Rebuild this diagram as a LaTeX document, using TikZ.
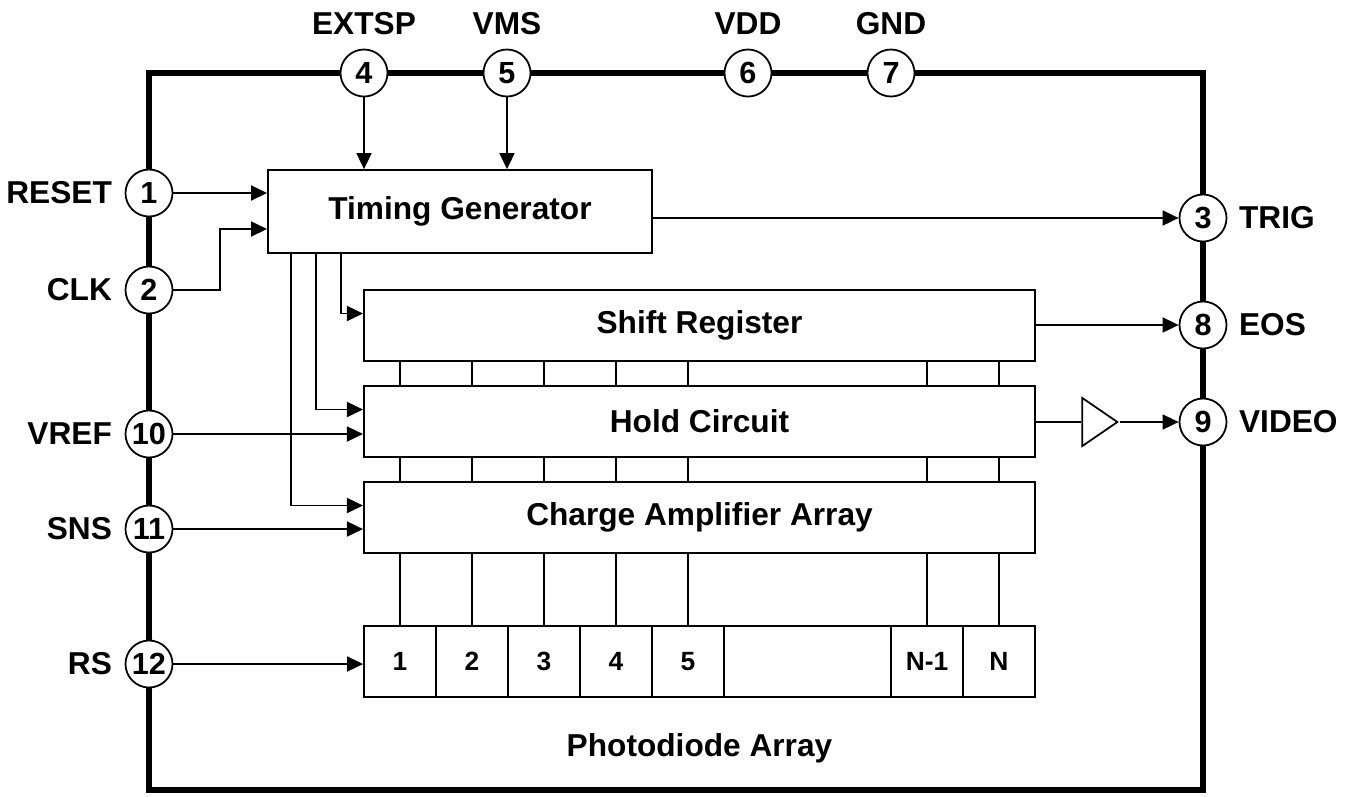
\documentclass[tikz,border=0pt]{standalone}
\usepackage{fontspec}
\setmainfont{Liberation Sans}
\usetikzlibrary{positioning,arrows.meta,shapes.geometric}

\begin{document}
\begin{tikzpicture}[x=0.01cm,y=-0.01cm,
  every node/.style={font=\fontsize{9}{11}\selectfont\bfseries},
  pin/.style={circle,draw,line width=0.5pt,fill=white,minimum size=0.47cm,inner sep=0pt,font=\fontsize{8.7}{10}\selectfont\bfseries},
  pinname/.style={inner sep=0pt},
  blk/.style={draw,line width=0.5pt,minimum width=6.71cm,minimum height=0.71cm},
  cell/.style={draw,line width=0.5pt,minimum width=0.72cm,minimum height=0.71cm,inner sep=0pt,font=\fontsize{7.5}{9}\selectfont\bfseries},
  wire/.style={line width=0.5pt},
  sig/.style={wire,-{Triangle[length=0.16cm,width=0.15cm]}}]
\useasboundingbox (0,0) rectangle (1351,796);
\draw[line width=1.8pt] (149,73) rectangle (1203,790);

\node[pin] (p4) at (364,73) {4};
\node[pin] (p5) at (507,73) {5};
\node[pin] (p6) at (748,73) {6};
\node[pin] (p7) at (891,73) {7};
\node[pin] (p1) at (149,193) {1};
\node[pin] (p2) at (149,290) {2};
\node[pin] (p10) at (149,434) {10};
\node[pin] (p11) at (149,529) {11};
\node[pin] (p12) at (149,664) {12};
\node[pin] (p3) at (1203,218) {3};
\node[pin] (p8) at (1203,325) {8};
\node[pin] (p9) at (1203,422) {9};

\node[pinname,above=0.13cm of p4] (l4) {EXTSP};
\node[pinname,above=0.13cm of p5] (l5) {VMS};
\node[pinname,above=0.13cm of p6] (l6) {VDD};
\node[pinname,above=0.13cm of p7] (l7) {GND};
\node[pinname,left=0.12cm of p1] (l1) {RESET};
\node[pinname,left=0.12cm of p2] (l2) {CLK};
\node[pinname,left=0.12cm of p10] (l10) {VREF};
\node[pinname,left=0.12cm of p11] (l11) {SNS};
\node[pinname,left=0.12cm of p12] (l12) {RS};
\node[pinname,right=0.11cm of p3] (l3) {TRIG};
\node[pinname,right=0.11cm of p8] (l8) {EOS};
\node[pinname,right=0.11cm of p9] (l9) {VIDEO};

\node[blk,minimum width=3.84cm,minimum height=0.83cm] (tg) at (460,211.5) {Timing Generator};
\node[blk] (sr) at (699.5,325.5) {Shift Register};
\node[blk] (hc) at (699.5,421.5) {Hold Circuit};
\node[blk] (ca) at (699.5,517.5) {Charge Amplifier Array};

\foreach \n/\t/\x in {c1/1/400,c2/2/472,c3/3/544,c4/4/616,c5/5/688,cm/N-1/927,cn/N/999}
  \node[cell] (\n) at (\x,661.5) {\t};
\node[cell,minimum width=1.67cm] (cg) at (807.5,661.5) {};
\node (pda) at (699.5,748) {Photodiode Array};

\foreach \n in {c1,c2,c3,c4,c5,cm,cn}{
  \draw[wire] (sr.south -| \n) -- (hc.north -| \n);
  \draw[wire] (hc.south -| \n) -- (ca.north -| \n);
  \draw[wire] (ca.south -| \n) -- (\n.north);
}

\draw[sig] (p1) -- (p1 -| tg.west);
\draw[sig] (p2) -- ++(71,0) |- ([yshift=-0.175cm]tg.west);
\draw[sig] (p4) -- (p4 |- tg.north);
\draw[sig] (p5) -- (p5 |- tg.north);
\draw[sig] (tg.east |- p3) -- (p3);
\foreach \dx/\b in {0.74cm/sr,0.49cm/hc,0.24cm/ca}
  \draw[sig] ([xshift=\dx]tg.south west) |- ([yshift=0.12cm]\b.west);
\draw[sig] (p10) -- (p10 -| hc.west);
\draw[sig] (p11) -- (p11 -| ca.west);
\draw[sig] (p12) -- (p12 -| c1.west);
\draw[sig] (sr.east |- p8) -- (p8);
\node[draw,isosceles triangle,isosceles triangle stretches,minimum width=0.48cm,minimum height=0.35cm,inner sep=0pt,line width=0.5pt] (amp) at (1095,422) {};
\draw[wire] (hc.east |- p9) -- (amp.west);
\draw[sig] (amp.apex) -- (p9);
\end{tikzpicture}
\end{document}
